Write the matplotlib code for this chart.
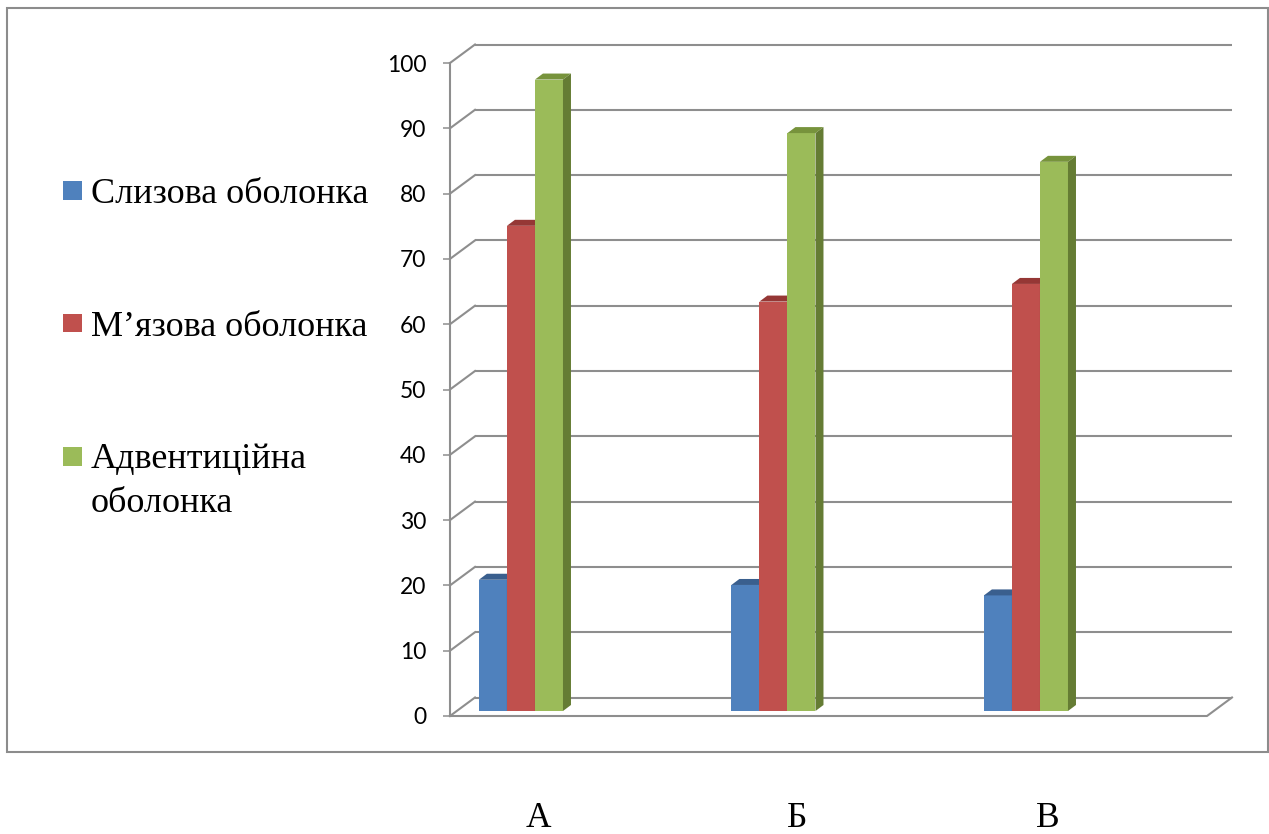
import matplotlib
matplotlib.use("Agg")
import matplotlib.pyplot as plt
from matplotlib.patches import Polygon, Rectangle
import numpy as np

# ---------------- data ----------------
categories = ["А", "Б", "В"]
series_names = ["Слизова оболонка", "М’язова оболонка", "Адвентиційна\nоболонка"]
slyzova = [20.1, 19.3, 17.7]
myazova = [74.3, 62.7, 65.4]
adventytsiina = [96.7, 88.5, 84.1]
y_ticks = [0, 10, 20, 30, 40, 50, 60, 70, 80, 90, 100]

series_values = [slyzova, myazova, adventytsiina]
front_colors = ["#4F81BD", "#C0504D", "#9BBB59"]
top_colors = ["#3A5F8E", "#953735", "#77933C"]
side_colors = ["#2E4B72", "#7B2C2A", "#657C34"]
grid_color = "#8E8E8E"

W, H = 1269, 834
fig = plt.figure(figsize=(W / 100, H / 100), dpi=100)
fig.patch.set_facecolor("white")

ax = fig.add_axes([450 / W, (H - 716) / H, (1207 - 450) / W, (716 - 63) / H])
ax.set_xlim(-0.254, 2.744)
ax.set_ylim(0, 100)
ax.patch.set_alpha(0)

# pixel -> data conversion
p0 = ax.transData.transform((0, 0))
p1 = ax.transData.transform((1, 1))
ppx, ppy = p1[0] - p0[0], p1[1] - p0[1]
DX, DY = 25 / ppx, 18.5 / ppy      # wall depth
BX, BY = 6.8 / ppx, 5 / ppy        # bar position inside depth
dX, dY = 8 / ppx, 6 / ppy          # bar depth
xl, xr = ax.get_xlim()

# back wall gridlines + diagonals
for t in y_ticks:
    ax.plot([xl + DX, xr + DX], [t + DY, t + DY], color=grid_color, lw=1.5,
            clip_on=False, zorder=1, solid_capstyle="butt")
    ax.plot([xl, xl + DX], [t, t + DY], color=grid_color, lw=1.5,
            clip_on=False, zorder=1)
# floor front edge
ax.plot([xl, xr, xr + DX], [0, 0, DY], color=grid_color, lw=1.5,
        clip_on=False, zorder=1)

# axes styling
for s in ["top", "right", "bottom"]:
    ax.spines[s].set_visible(False)
ax.spines["left"].set_color(grid_color)
ax.spines["left"].set_linewidth(1.5)
ax.set_xticks([])
ax.set_yticks(y_ticks)
ax.set_yticklabels([str(t) for t in y_ticks], fontfamily="Lato", fontsize=16.5)
ax.tick_params(axis="y", length=5, width=1.1, color=grid_color, pad=12,
               labelcolor="black")

# bars
w = 0.111
x = np.arange(len(categories))
for k, vals in enumerate(series_values):
    xs = x + (k - 1) * w + BX
    z = 3 + k
    ax.bar(xs, vals, width=w, bottom=BY, color=front_colors[k],
           align="center", zorder=z, clip_on=False, linewidth=0)
    for xc, v in zip(xs, vals):
        x0, x1 = xc - w / 2, xc + w / 2
        top = BY + v
        ax.add_patch(Polygon([(x0, top), (x1, top), (x1 + dX, top + dY), (x0 + dX, top + dY)],
                             closed=True, facecolor=top_colors[k], lw=0,
                             zorder=z, clip_on=False))
        ax.add_patch(Polygon([(x1, BY), (x1 + dX, BY + dY), (x1 + dX, top + dY), (x1, top)],
                             closed=True, facecolor=side_colors[k], lw=0,
                             zorder=z, clip_on=False))

# legend (manual)
leg_square_tops = [181, 314, 447]
leg_baselines = [203, 336, 468]
for k, name in enumerate(series_names):
    fig.patches.append(Rectangle((63 / W, (H - leg_square_tops[k] - 18.5) / H), 19 / W, 18.5 / H,
                                 transform=fig.transFigure, facecolor=front_colors[k], lw=0))
    lines = name.split("\n")
    for j, line in enumerate(lines):
        fig.text(91 / W, (H - leg_baselines[k] - 43.5 * j) / H, line,
                 fontfamily="Liberation Serif", fontsize=26, va="baseline", ha="left")

# category labels below the chart frame
cat_x = [538, 797, 1048]
for cx, c in zip(cat_x, categories):
    fig.text(cx / W, (H - 827) / H, c, fontfamily="Liberation Serif",
             fontsize=25.5, va="baseline", ha="center")

# chart frame
fig.patches.append(Rectangle((7 / W, (H - 752) / H), (1268 - 7) / W, (752 - 8) / H,
                             transform=fig.transFigure, facecolor="none",
                             edgecolor="#8C8C8C", lw=1.5))

fig.savefig("out.png", dpi=100)
